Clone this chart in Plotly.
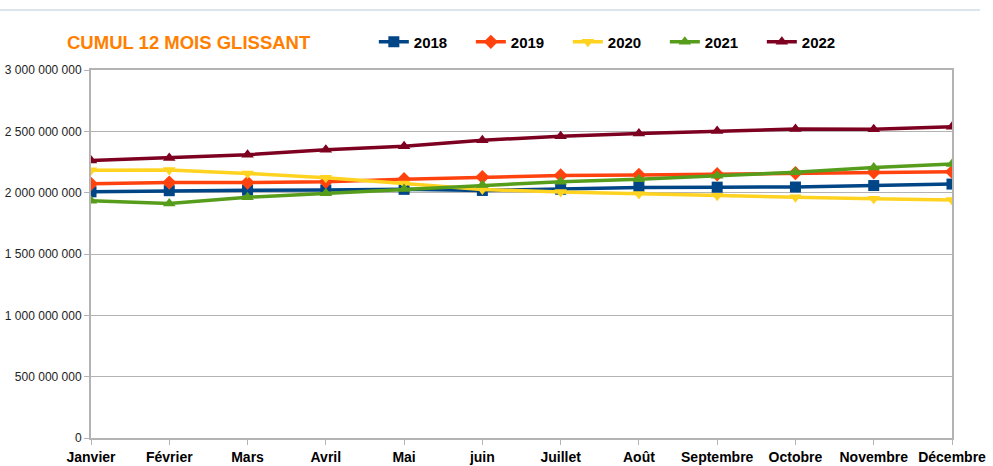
import plotly.graph_objects as go

months = ["Janvier", "Février", "Mars", "Avril", "Mai", "juin", "Juillet",
          "Août", "Septembre", "Octobre", "Novembre", "Décembre"]

y2018 = [2.007e9, 2.016e9, 2.020e9, 2.022e9, 2.027e9, 2.018e9, 2.028e9,
         2.043e9, 2.045e9, 2.046e9, 2.058e9, 2.070e9]
y2019 = [2.072e9, 2.082e9, 2.082e9, 2.088e9, 2.110e9, 2.127e9, 2.140e9,
         2.144e9, 2.150e9, 2.160e9, 2.166e9, 2.170e9]
y2020 = [2.183e9, 2.185e9, 2.157e9, 2.122e9, 2.075e9, 2.025e9, 2.006e9,
         1.990e9, 1.975e9, 1.962e9, 1.951e9, 1.940e9]
y2021 = [1.935e9, 1.912e9, 1.963e9, 1.995e9, 2.030e9, 2.063e9, 2.090e9,
         2.110e9, 2.138e9, 2.166e9, 2.205e9, 2.234e9]
y2022 = [2.263e9, 2.283e9, 2.309e9, 2.350e9, 2.378e9, 2.427e9, 2.460e9,
         2.482e9, 2.503e9, 2.519e9, 2.517e9, 2.537e9]

series = [
    ("2018", y2018, "#004586", "square"),
    ("2019", y2019, "#ff420e", "diamond"),
    ("2020", y2020, "#ffd320", "triangle-down"),
    ("2021", y2021, "#579d1c", "triangle-up"),
    ("2022", y2022, "#7e0021", "triangle-up"),
]

ytickvals = [0, 500e6, 1000e6, 1500e6, 2000e6, 2500e6, 3000e6]
yticktext = ["0", "500 000 000", "1 000 000 000", "1 500 000 000",
             "2 000 000 000", "2 500 000 000", "3 000 000 000"]

xidx = list(range(len(months)))

L, T, PW, PH = 91, 70, 861, 368
W, H = 993, 466

fig = go.Figure()
for name, vals, color, sym in series:
    fig.add_trace(go.Scatter(
        x=xidx, y=vals, name=name, mode="lines+markers",
        line=dict(color=color, width=3.5),
        marker=dict(symbol=sym, size=11, color=color),
    ))

fig.update_layout(
    width=W, height=H,
    margin=dict(l=L, r=W - L - PW, t=T, b=H - T - PH, autoexpand=False),
    paper_bgcolor="white", plot_bgcolor="white",
    font=dict(family="Liberation Sans, Arial, sans-serif", color="#000000"),
    showlegend=True,
    legend=dict(
        orientation="h", x=0.3285, xanchor="left", y=1.076, yanchor="middle",
        font=dict(size=15, family="Liberation Sans, Arial, sans-serif", color="#000000", weight="bold"),
        entrywidth=52, entrywidthmode="pixels",
        itemwidth=30, bgcolor="rgba(0,0,0,0)",
    ),
    xaxis=dict(
        range=[0, 11], tickvals=xidx, ticktext=months, automargin=False,
        showgrid=False, zeroline=False,
        showline=True, linecolor="#b3b3b3", linewidth=2, mirror=True,
        ticks="outside", ticklen=5, tickcolor="#b3b3b3",
        tickfont=dict(size=14, color="#000000", weight="bold"),
    ),
    yaxis=dict(
        range=[0, 3e9], tickvals=ytickvals, ticktext=yticktext, automargin=False,
        showgrid=True, gridcolor="#b3b3b3", gridwidth=1, zeroline=False,
        showline=True, linecolor="#b3b3b3", linewidth=2, mirror=True,
        ticks="outside", ticklen=5, tickcolor="#b3b3b3",
        tickfont=dict(size=12, color="#222222"),
    ),
    annotations=[dict(
        text="<b>CUMUL 12 MOIS GLISSANT</b>", xref="paper", yref="paper",
        x=(65 - L) / PW, xanchor="left", y=(438 - 42) / PH, yanchor="middle",
        showarrow=False, font=dict(size=18.5, color="#ff8000",
                                   family="Liberation Sans, Arial, sans-serif"),
    )],
    shapes=[dict(
        type="line", xref="paper", yref="paper",
        x0=-L / PW, x1=(980 - L) / PW,
        y0=(438 - 10) / PH, y1=(438 - 10) / PH,
        line=dict(color="#dce4ec", width=2),
    )],
)

fig.write_html("out.html", config={"displayModeBar": False},
               post_script="document.body.style.margin='0';document.body.style.overflow='hidden';")
